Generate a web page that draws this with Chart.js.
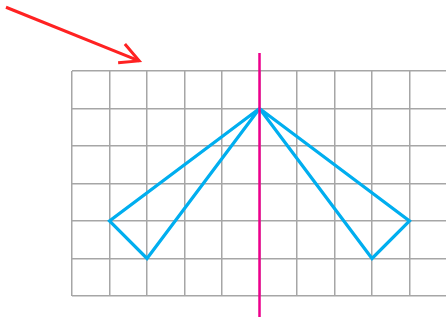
<!DOCTYPE html>
<html>
<head>
<meta charset="utf-8">
<script src="https://cdn.jsdelivr.net/npm/chart.js@4/dist/chart.umd.min.js"></script>
<style>
html,body{margin:0;padding:0;background:#fff;}
#wrap{width:446px;height:320px;}
</style>
</head>
<body>
<div id="wrap"><canvas id="c" width="446" height="320"></canvas></div>
<script>
// Visible grid extent (cells); the last column is cut by the picture edge
const gridCols = 9.973;
const gridRows = 6;
// Grid line positions
const gridXTicks = [0, 1, 2, 3, 4, 5, 6, 7, 8, 9];
const gridYTicks = [0, 1, 2, 3, 4, 5, 6];
// Left half of the figure (closed triangle)
const leftX = [5, 1, 2, 5];
const leftY = [5, 2, 1, 5];
// Right half of the figure (mirror image)
const rightX = [5, 9, 8, 5];
const rightY = [5, 2, 1, 5];
// Axis of symmetry
const axisX = [5, 5];
const axisY = [6.48, -0.56];
// Red arrow: shaft then head (wing - tip - wing)
const arrowShaftX = [-1.76, 1.79];
const arrowShaftY = [7.70, 6.27];
const arrowHeadX = [1.41, 1.79, 1.23];
const arrowHeadY = [6.72, 6.27, 6.22];

const pts = (xs, ys) => xs.map((x, i) => ({x: x, y: ys[i]}));
const lineDs = (data, color, width, order) => ({
  data: data, showLine: true, borderColor: color, borderWidth: width,
  pointRadius: 0, pointHoverRadius: 0, fill: false, clip: false, tension: 0,
  order: order, borderJoinStyle: 'miter', borderCapStyle: 'butt'
});

new Chart(document.getElementById('c'), {
  type: 'scatter',
  data: {
    datasets: [
      lineDs(pts(axisX, axisY), '#ec008c', 2.5, 0),
      lineDs(pts(leftX, leftY), '#00aeef', 3.2, 1),
      lineDs(pts(rightX, rightY), '#00aeef', 3.2, 1),
      lineDs(pts(arrowShaftX, arrowShaftY), '#ff2222', 3, 0),
      lineDs(pts(arrowHeadX, arrowHeadY), '#ff2222', 3, 0)
    ]
  },
  options: {
    responsive: false,
    animation: false,
    events: [],
    layout: {padding: {left: 72, top: 71, right: 0, bottom: 24}},
    plugins: {legend: {display: false}, tooltip: {enabled: false}},
    scales: {
      x: {
        type: 'linear', min: 0, max: gridCols,
        afterBuildTicks: (s) => { s.ticks = gridXTicks.map(v => ({value: v})); },
        ticks: {display: false},
        grid: {color: '#a6a6a6', lineWidth: 1.5, drawTicks: false},
        border: {display: false}
      },
      y: {
        type: 'linear', min: 0, max: gridRows,
        afterBuildTicks: (s) => { s.ticks = gridYTicks.map(v => ({value: v})); },
        ticks: {display: false},
        grid: {color: '#a6a6a6', lineWidth: 1.5, drawTicks: false},
        border: {display: false}
      }
    }
  }
});
</script>
</body>
</html>
